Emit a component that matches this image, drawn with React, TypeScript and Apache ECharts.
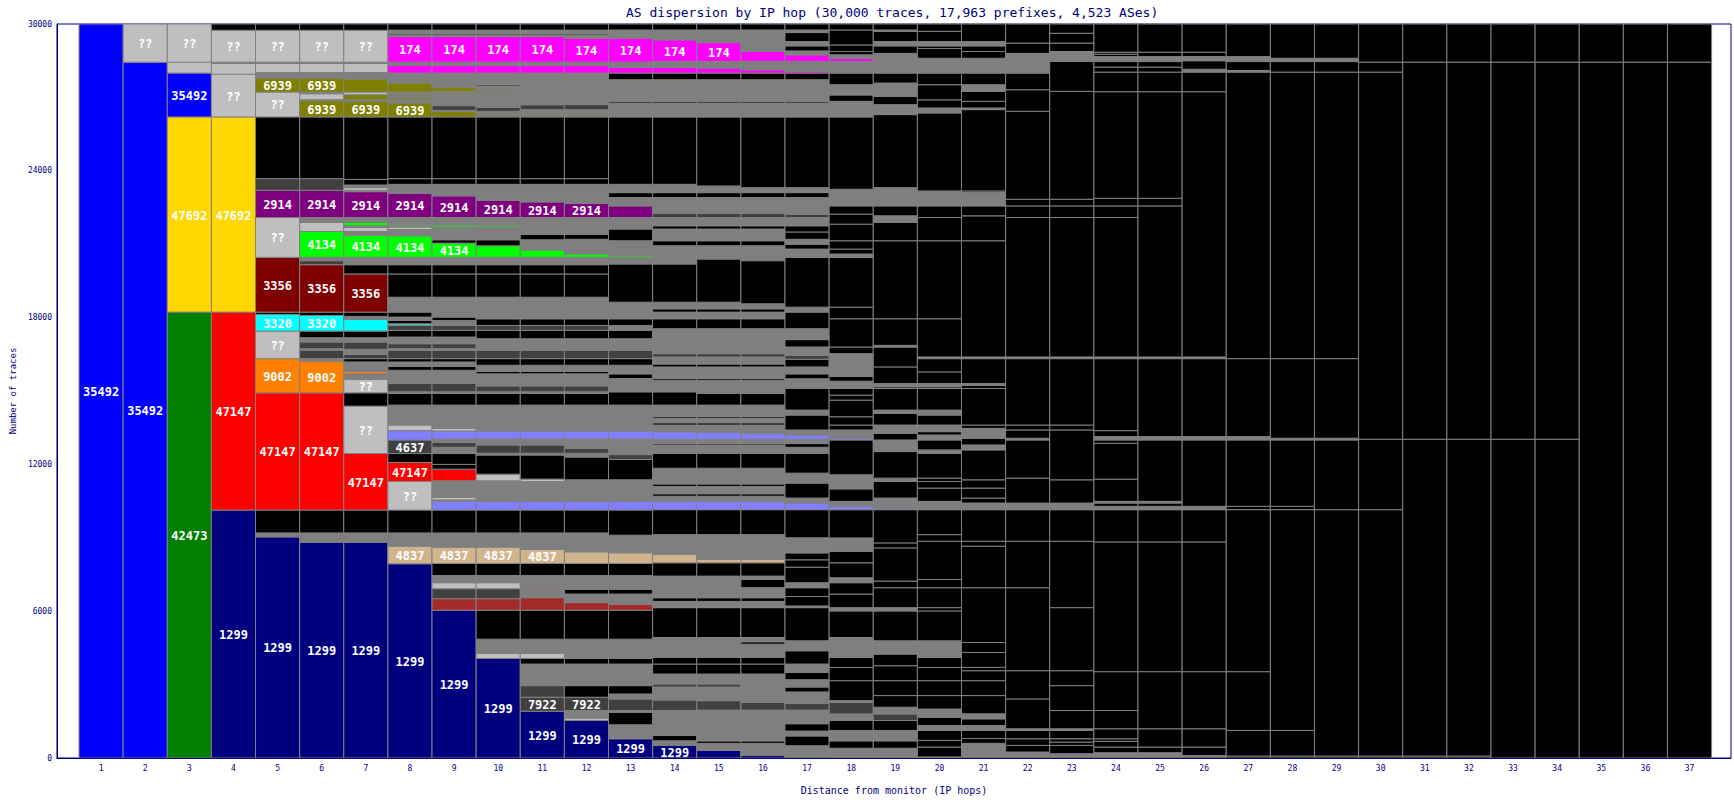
import React, { useEffect, useRef } from "react";
import * as echarts from "echarts";

const TITLE = "AS dispersion by IP hop (30,000 traces, 17,963 prefixes, 4,523 ASes)";
const X_NAME = "Distance from monitor (IP hops)";
const Y_NAME = "Number of traces";
const Y_TICKS = [0, 6000, 12000, 18000, 24000, 30000];

const COLORS: Record<string, string> = {
  B: "#0000ff", L: "#bfbfbf", Y: "#ffd700", G: "#007f00", R: "#ff0000", N: "#00007f",
  M: "#ff00ff", O: "#7f7f00", P: "#7f007f", E: "#00ff00", W: "#7f0000", C: "#00ffff",
  A: "#ff7f00", D: "#404040", g: "#7f7f7f", K: "#000000", S: "#7f7fff", T: "#d2b48c", X: "#a52a2a",
};

// Each hop: segments bottom-up as [cumulative traces at segment top, AS colour key, AS label]
const hop01 = [[30000, "B", "35492"]];
const hop02 = [[28441, "B", "35492"], [30000, "L", "??"]];
const hop03 = [[18224, "G", "42473"], [26203, "Y", "47692"], [27993, "B", "35492"], [28441, "L"], [30000, "L", "??"]];
const hop04 = [[10136, "N", "1299"], [18224, "R", "47147"], [26203, "Y", "47692"], [27950, "L", "??"], [28400, "L"], [28441, "K"], [29747, "L", "??"], [30000, "K"]];
const hop05 = [[9037, "N", "1299"], [9200, "g"], [10136, "K"], [14926, "R", "47147"], [16323, "A", "9002"], [17450, "L", "??"], [18127, "C", "3320"], [18224, "K"], [20463, "W", "3356"], [22091, "L", "??"], [23203, "P", "2914"], [23679, "D"], [26203, "K"], [27220, "L", "??"], [27790, "O", "6939"], [28018, "g"], [28400, "L"], [28441, "K"], [29747, "L", "??"], [30000, "K"]];
const hop06 = [[8821, "N", "1299"], [9200, "g"], [10136, "K"], [14926, "R", "47147"], [16215, "A", "9002"], [16323, "g"], [16662, "D"], [16730, "g"], [17003, "D"], [17178, "g"], [17450, "K"], [18086, "C", "3320"], [18224, "K"], [20162, "W", "3356"], [20325, "D"], [20463, "g"], [21520, "E", "4134"], [21887, "L"], [22091, "g"], [23203, "P", "2914"], [23679, "D"], [26203, "K"], [26867, "O", "6939"], [26908, "g"], [27150, "L"], [27220, "g"], [27790, "O", "6939"], [28018, "g"], [28400, "L"], [28441, "K"], [29747, "L", "??"], [30000, "K"]];
const hop07 = [[8821, "N", "1299"], [9200, "g"], [10136, "K"], [12444, "R", "47147"], [14382, "L", "??"], [14926, "K"], [15468, "L", "??"], [15700, "g"], [15806, "A"], [16189, "g"], [16323, "K"], [16500, "D"], [16700, "g"], [17000, "D"], [17178, "g"], [17450, "K"], [17920, "C"], [18050, "g"], [18224, "K"], [19783, "W", "3356"], [20162, "K"], [20463, "g"], [21370, "E", "4134"], [21520, "g"], [21683, "L"], [21750, "g"], [21887, "E"], [22091, "g"], [23148, "P", "2914"], [23203, "g"], [23312, "L"], [23420, "g"], [23650, "K"], [26203, "K"], [26840, "O", "6939"], [26908, "g"], [27110, "O"], [27220, "L"], [27750, "O"], [28018, "g"], [28400, "L"], [28441, "K"], [29747, "L", "??"], [30000, "K"]];
const hop08 = [[7938, "N", "1299"], [8658, "T", "4837"], [9200, "g"], [10136, "K"], [11304, "L", "??"], [12077, "R", "47147"], [12444, "K"], [12998, "D", "4637"], [13381, "S"], [13609, "L"], [14423, "g"], [14898, "K"], [14966, "g"], [15306, "D"], [15848, "g"], [16000, "K"], [16187, "g"], [16323, "K"], [16663, "D"], [16731, "g"], [16934, "D"], [17206, "g"], [17477, "K"], [17681, "D"], [17749, "C"], [17884, "K"], [18020, "g"], [18224, "K"], [18834, "g"], [19783, "K"], [20162, "K"], [20463, "g"], [21343, "E", "4134"], [21600, "g"], [21700, "L"], [21750, "g"], [21800, "E"], [22091, "g"], [23080, "P", "2914"], [23446, "g"], [23679, "K"], [26203, "K"], [26772, "O", "6939"], [26900, "g"], [26980, "O"], [27100, "g"], [27150, "O"], [27220, "g"], [27586, "O"], [27993, "g"], [28304, "M"], [28441, "g"], [29483, "M", "174"], [29550, "g"], [29620, "D"], [29750, "g"], [30000, "K"]];
const hop09 = [[6037, "N", "1299"], [6513, "X"], [6920, "D"], [7164, "L"], [7462, "g"], [7950, "K"], [8617, "T", "4837"], [9200, "g"], [10136, "K"], [10490, "S"], [10550, "g"], [10650, "L"], [11328, "g"], [11805, "R"], [12000, "K"], [12444, "K"], [12700, "g"], [12900, "D"], [13040, "g"], [13367, "S"], [13474, "L"], [14423, "g"], [14898, "K"], [14966, "g"], [15306, "D"], [15848, "g"], [16000, "K"], [16187, "g"], [16323, "K"], [16663, "D"], [16731, "g"], [16934, "D"], [17206, "g"], [17477, "K"], [17681, "D"], [17884, "g"], [18020, "K"], [18224, "g"], [18834, "g"], [19783, "K"], [20162, "K"], [20463, "g"], [21045, "E", "4134"], [21180, "K"], [21700, "g"], [21780, "E"], [22091, "g"], [22975, "P", "2914"], [23446, "g"], [23679, "K"], [26203, "K"], [26430, "O"], [26471, "g"], [26663, "D"], [27150, "g"], [27200, "O"], [27245, "g"], [27407, "O"], [27480, "g"], [27540, "D"], [27993, "g"], [28300, "M"], [28441, "g"], [29483, "M", "174"], [29550, "g"], [29620, "D"], [29750, "g"], [30000, "K"]];
const hop10 = [[4070, "N", "1299"], [4274, "L"], [4856, "g"], [6037, "K"], [6513, "X"], [6920, "D"], [7164, "L"], [7462, "g"], [7950, "K"], [8617, "T", "4837"], [9200, "g"], [10136, "K"], [10490, "S"], [11328, "g"], [11601, "L"], [12383, "K"], [12456, "g"], [12794, "D"], [13040, "g"], [13367, "S"], [14423, "g"], [14898, "K"], [14966, "g"], [15210, "D"], [15700, "g"], [15800, "K"], [16051, "g"], [16323, "K"], [16662, "D"], [17137, "g"], [17476, "K"], [17680, "D"], [17951, "K"], [18224, "g"], [18834, "g"], [19783, "K"], [20162, "K"], [20463, "g"], [20935, "E"], [21180, "K"], [21700, "g"], [21760, "E"], [22091, "g"], [22795, "P", "2914"], [23446, "g"], [23679, "K"], [26203, "K"], [26256, "O"], [26430, "g"], [26600, "D"], [27200, "g"], [27260, "O"], [27450, "g"], [27520, "D"], [27993, "g"], [28300, "M"], [28441, "g"], [29483, "M", "174"], [29550, "g"], [29620, "D"], [29750, "g"], [30000, "K"]];
const hop11 = [[1913, "N", "1299"], [2483, "D", "7922"], [2958, "D"], [3500, "g"], [3840, "g"], [4070, "K"], [4274, "L"], [4856, "g"], [6037, "K"], [6554, "X"], [7000, "g"], [7060, "X"], [7462, "g"], [7950, "K"], [8522, "T", "4837"], [9200, "g"], [10136, "K"], [10490, "S"], [11300, "g"], [11400, "L"], [12383, "K"], [12456, "g"], [12794, "D"], [13040, "g"], [13367, "S"], [14423, "g"], [14898, "K"], [14966, "g"], [15210, "D"], [15700, "g"], [15800, "K"], [16051, "g"], [16323, "K"], [16662, "D"], [17137, "g"], [17476, "K"], [17680, "D"], [17951, "K"], [18224, "g"], [18834, "g"], [19783, "K"], [20162, "K"], [20463, "g"], [20760, "E"], [21180, "g"], [21400, "K"], [22091, "g"], [22727, "P", "2914"], [23446, "g"], [23679, "K"], [26203, "K"], [26256, "O"], [26500, "g"], [26700, "D"], [27993, "g"], [28300, "M"], [28441, "g"], [29483, "M", "174"], [29550, "g"], [29620, "D"], [29750, "g"], [30000, "K"]];
const hop12 = [[1534, "N", "1299"], [1628, "L"], [1941, "g"], [2483, "D", "7922"], [2958, "K"], [3500, "g"], [3840, "g"], [4070, "K"], [4856, "g"], [6037, "K"], [6350, "X"], [6700, "g"], [6900, "K"], [7462, "g"], [7950, "K"], [8426, "T"], [9200, "g"], [10136, "K"], [10490, "S"], [11370, "g"], [12300, "K"], [12456, "g"], [12659, "D"], [13040, "g"], [13367, "S"], [14423, "g"], [14898, "K"], [14966, "g"], [15210, "D"], [15700, "g"], [15800, "K"], [16051, "g"], [16323, "K"], [16662, "D"], [17137, "g"], [17476, "K"], [17680, "D"], [17951, "K"], [18224, "g"], [18834, "g"], [19783, "K"], [20162, "K"], [20463, "g"], [20600, "E"], [21200, "g"], [21400, "K"], [22091, "g"], [22673, "P", "2914"], [23446, "g"], [23679, "K"], [26203, "K"], [26256, "O"], [26500, "g"], [26707, "D"], [27993, "g"], [28300, "M"], [28441, "g"], [29415, "M", "174"], [29550, "g"], [29620, "D"], [29750, "g"], [30000, "K"]];
const hop13 = [[786, "N", "1299"], [830, "L"], [1355, "g"], [1872, "K"], [1941, "g"], [2414, "D"], [2617, "g"], [2958, "K"], [3432, "g"], [3840, "g"], [4070, "K"], [4856, "g"], [6037, "K"], [6280, "X"], [6700, "g"], [6900, "K"], [7462, "g"], [7950, "K"], [8386, "T"], [9105, "g"], [10136, "K"], [10490, "S"], [11370, "g"], [12200, "K"], [12400, "D"], [13040, "g"], [13367, "S"], [14423, "g"], [14966, "K"], [15210, "g"], [15508, "g"], [15700, "K"], [16051, "g"], [16323, "K"], [16662, "D"], [17137, "g"], [17476, "K"], [17680, "g"], [17951, "K"], [18224, "g"], [18630, "g"], [20191, "K"], [20463, "g"], [20528, "E"], [21141, "g"], [21620, "K"], [22091, "g"], [22566, "P"], [22905, "g"], [23108, "K"], [23448, "g"], [26202, "K"], [26772, "g"], [26840, "K"], [27722, "g"], [27993, "K"], [28237, "M"], [28441, "g"], [29415, "M", "174"], [29757, "g"], [30000, "K"]];
const hop14 = [[515, "N", "1299"], [700, "g"], [923, "K"], [1940, "g"], [2370, "D"], [2900, "g"], [3025, "D"], [3432, "g"], [3840, "K"], [4111, "K"], [4925, "g"], [6146, "K"], [6400, "g"], [6550, "K"], [6960, "g"], [7435, "g"], [7978, "K"], [8317, "T"], [9131, "g"], [10149, "K"], [10488, "S"], [10700, "g"], [10800, "K"], [11100, "g"], [11200, "K"], [11845, "g"], [12456, "K"], [12795, "g"], [12850, "K"], [13026, "g"], [13338, "S"], [13609, "g"], [13700, "K"], [13880, "g"], [13950, "K"], [14423, "g"], [14966, "K"], [15441, "g"], [15509, "K"], [15984, "g"], [16100, "K"], [16392, "g"], [16527, "D"], [17545, "g"], [17952, "K"], [18224, "g"], [18359, "K"], [18630, "g"], [20191, "K"], [20937, "g"], [21141, "K"], [21620, "g"], [21752, "K"], [22091, "g"], [22267, "D"], [22330, "g"], [22362, "P"], [22566, "g"], [22905, "g"], [23108, "K"], [23448, "g"], [26202, "K"], [26772, "g"], [26840, "K"], [27722, "g"], [27993, "K"], [28237, "M"], [28468, "g"], [29350, "M", "174"], [29757, "g"], [30000, "K"]];
const hop15 = [[312, "N"], [600, "g"], [700, "K"], [1957, "g"], [2342, "D"], [2900, "g"], [3025, "D"], [3432, "g"], [3840, "K"], [4111, "K"], [4925, "g"], [6146, "K"], [6400, "g"], [6550, "K"], [6960, "g"], [7435, "g"], [7978, "K"], [8114, "T"], [9131, "g"], [10149, "K"], [10488, "S"], [10700, "g"], [10800, "K"], [11100, "g"], [11200, "K"], [11845, "g"], [12456, "K"], [12795, "g"], [12850, "K"], [13026, "g"], [13310, "S"], [13609, "g"], [13700, "K"], [13880, "g"], [13950, "K"], [14423, "g"], [14898, "K"], [15441, "g"], [15509, "K"], [15984, "g"], [16100, "K"], [16392, "g"], [16527, "D"], [17545, "g"], [17952, "K"], [18224, "g"], [18359, "K"], [18630, "g"], [20395, "K"], [20937, "g"], [21141, "K"], [21620, "g"], [21752, "K"], [22091, "g"], [22267, "D"], [22566, "g"], [22905, "g"], [23108, "K"], [23380, "g"], [26202, "K"], [26772, "g"], [26840, "K"], [27722, "g"], [27993, "K"], [28200, "M"], [28468, "g"], [29240, "M", "174"], [29757, "g"], [30000, "K"]];
const hop16 = [[109, "N"], [600, "g"], [700, "K"], [1957, "g"], [2274, "D"], [2900, "g"], [3432, "g"], [3840, "K"], [4111, "K"], [4650, "g"], [4750, "K"], [4925, "g"], [6146, "K"], [6400, "g"], [6550, "K"], [6960, "g"], [7300, "K"], [7435, "g"], [7978, "K"], [8114, "T"], [9131, "g"], [10149, "K"], [10488, "S"], [10700, "g"], [10800, "K"], [11100, "g"], [11200, "K"], [11845, "g"], [12456, "K"], [12795, "g"], [12850, "K"], [13026, "g"], [13270, "S"], [13609, "g"], [13700, "K"], [13880, "g"], [13950, "K"], [14423, "g"], [14898, "K"], [15441, "g"], [15509, "K"], [15984, "g"], [16100, "K"], [16392, "g"], [16527, "D"], [17545, "g"], [17952, "K"], [18224, "g"], [18359, "K"], [18563, "g"], [20327, "K"], [20937, "g"], [21141, "K"], [21620, "g"], [21752, "K"], [22091, "g"], [22267, "D"], [22566, "g"], [22905, "g"], [23108, "K"], [23312, "g"], [26202, "K"], [26772, "g"], [26840, "K"], [27722, "g"], [27993, "K"], [28129, "M"], [28468, "g"], [28875, "M"], [29100, "g"], [29400, "g"], [29757, "g"], [30000, "K"]];
const hop17 = [[41, "N"], [300, "g"], [500, "g"], [900, "K"], [1100, "g"], [1400, "K"], [1957, "g"], [2234, "D"], [2700, "g"], [2900, "K"], [3200, "g"], [3500, "K"], [3840, "g"], [4382, "K"], [4789, "g"], [6146, "K"], [6214, "g"], [6600, "K"], [6960, "K"], [7164, "g"], [7800, "K"], [8100, "K"], [8385, "K"], [9000, "g"], [10149, "K"], [10420, "S"], [10624, "g"], [11235, "K"], [11642, "g"], [12456, "K"], [12700, "g"], [12850, "K"], [13026, "g"], [13202, "S"], [13406, "g"], [14016, "K"], [14220, "g"], [15102, "K"], [15238, "g"], [15500, "g"], [15700, "K"], [15984, "g"], [16300, "K"], [16450, "D"], [16800, "g"], [17100, "K"], [17545, "g"], [18224, "K"], [18427, "g"], [20463, "K"], [20800, "g"], [21000, "K"], [21200, "g"], [21500, "K"], [21752, "K"], [22091, "g"], [22227, "D"], [22566, "g"], [22905, "g"], [23108, "K"], [23312, "g"], [26202, "K"], [26772, "g"], [26840, "K"], [27300, "g"], [27722, "g"], [27993, "K"], [28060, "M"], [28468, "g"], [28739, "M"], [28900, "g"], [29106, "K"], [29282, "g"], [29650, "K"], [29757, "g"], [30000, "K"]];
const hop18 = [[41, "D"], [400, "g"], [700, "K"], [1126, "g"], [1533, "K"], [1800, "g"], [2279, "D"], [2347, "g"], [3161, "K"], [3700, "K"], [4111, "K"], [4246, "g"], [4925, "g"], [6010, "K"], [6146, "g"], [6700, "K"], [7164, "K"], [7367, "g"], [7978, "K"], [8453, "K"], [8996, "g"], [10149, "K"], [10285, "S"], [10488, "g"], [11000, "K"], [11574, "g"], [12998, "K"], [13067, "S"], [13406, "g"], [13609, "K"], [13948, "K"], [14627, "K"], [14831, "K"], [15102, "K"], [15400, "g"], [15600, "K"], [16000, "g"], [16527, "g"], [16798, "K"], [17952, "K"], [18427, "K"], [20463, "K"], [20598, "g"], [20801, "K"], [21141, "K"], [21820, "K"], [22227, "K"], [22566, "K"], [22905, "g"], [23244, "g"], [26202, "K"], [26840, "g"], [27100, "K"], [27300, "g"], [27518, "g"], [27993, "K"], [28300, "g"], [28468, "g"], [28603, "M"], [28739, "g"], [28875, "K"], [29146, "K"], [29757, "K"], [30000, "K"]];
const hop19 = [[41, "D"], [400, "g"], [700, "K"], [1126, "g"], [1533, "K"], [1800, "D"], [2076, "g"], [2551, "K"], [3161, "K"], [3772, "K"], [4246, "K"], [4789, "g"], [6010, "K"], [6146, "g"], [6960, "K"], [7232, "K"], [8588, "K"], [8792, "K"], [10149, "K"], [10217, "S"], [10624, "g"], [11302, "K"], [11438, "g"], [12524, "K"], [12998, "g"], [13270, "K"], [13609, "g"], [14084, "K"], [14220, "g"], [15102, "K"], [15170, "K"], [15305, "g"], [15984, "K"], [16798, "K"], [16866, "g"], [17952, "K"], [21141, "K"], [21888, "K"], [22159, "g"], [22566, "K"], [22770, "g"], [23244, "g"], [23312, "g"], [26297, "K"], [26704, "g"], [27044, "K"], [27587, "g"], [27993, "K"], [28264, "g"], [28400, "g"], [28800, "g"], [29106, "K"], [29282, "g"], [29700, "K"], [29757, "g"], [30000, "K"]];
const hop20 = [[41, "g"], [448, "K"], [720, "K"], [1126, "K"], [1329, "g"], [1670, "K"], [2000, "g"], [2551, "K"], [3161, "K"], [3700, "K"], [4111, "K"], [4246, "g"], [4789, "g"], [6010, "K"], [6146, "K"], [6960, "K"], [7300, "K"], [8860, "K"], [9130, "K"], [10149, "K"], [10488, "g"], [11031, "K"], [11302, "K"], [11438, "K"], [12456, "K"], [12592, "g"], [12998, "K"], [13202, "g"], [13338, "K"], [13609, "g"], [14016, "K"], [14220, "g"], [15102, "K"], [15170, "K"], [15305, "g"], [15780, "K"], [16323, "K"], [16392, "g"], [17952, "K"], [21141, "K"], [22091, "K"], [22566, "K"], [22770, "g"], [23176, "g"], [26365, "K"], [26568, "g"], [26900, "K"], [27518, "K"], [27993, "K"], [28264, "g"], [28600, "g"], [29000, "K"], [29106, "K"], [29282, "g"], [29700, "K"], [30000, "K"]];
const hop21 = [[41, "K"], [300, "g"], [600, "g"], [800, "K"], [1126, "K"], [1329, "g"], [1600, "K"], [1805, "g"], [2551, "K"], [3161, "K"], [3568, "K"], [3704, "K"], [4314, "K"], [4721, "K"], [6960, "K"], [8656, "K"], [8860, "K"], [10149, "K"], [10420, "g"], [10624, "K"], [11031, "K"], [11370, "K"], [12592, "K"], [12795, "g"], [13067, "K"], [13473, "g"], [13609, "K"], [15102, "K"], [15238, "K"], [15305, "g"], [16323, "K"], [16392, "g"], [21141, "K"], [22159, "K"], [22566, "K"], [22770, "g"], [23108, "g"], [23176, "K"], [26501, "K"], [26568, "g"], [26840, "K"], [27247, "K"], [27518, "g"], [27993, "K"], [28264, "g"], [28600, "g"], [28875, "K"], [29106, "K"], [29282, "g"], [30000, "K"]];
const hop22 = [[41, "K"], [100, "g"], [244, "g"], [515, "K"], [786, "K"], [1126, "K"], [1193, "g"], [2415, "K"], [3568, "K"], [6960, "K"], [8860, "K"], [10149, "K"], [10420, "g"], [11438, "K"], [12998, "K"], [13067, "g"], [13406, "K"], [13609, "K"], [16323, "K"], [16392, "g"], [22091, "K"], [22566, "K"], [22837, "K"], [26433, "K"], [27315, "K"], [27993, "K"], [28264, "g"], [28468, "g"], [28800, "g"], [29220, "K"], [30000, "K"]];
const hop23 = [[41, "K"], [176, "g"], [515, "K"], [650, "K"], [786, "K"], [1126, "K"], [1193, "g"], [1940, "K"], [2958, "K"], [3568, "K"], [6146, "K"], [8860, "K"], [10149, "K"], [10420, "g"], [11370, "K"], [13406, "K"], [13609, "K"], [16323, "K"], [16392, "g"], [22091, "K"], [22566, "K"], [22837, "K"], [27247, "K"], [28468, "K"], [28669, "g"], [28875, "g"], [29220, "K"], [29621, "K"], [30000, "K"]];
const hop24 = [[41, "K"], [216, "g"], [448, "K"], [680, "K"], [786, "K"], [1193, "K"], [1942, "K"], [3529, "K"], [8833, "K"], [10148, "K"], [10286, "g"], [10421, "K"], [10490, "g"], [11398, "K"], [12863, "K"], [13000, "K"], [13136, "g"], [13380, "K"], [16323, "K"], [16392, "g"], [22091, "K"], [22564, "K"], [22877, "K"], [27232, "K"], [28034, "K"], [28238, "K"], [28465, "K"], [28669, "g"], [28766, "K"], [28847, "K"], [30000, "K"]];
const hop25 = [[41, "K"], [216, "g"], [448, "K"], [1193, "K"], [3529, "K"], [8833, "K"], [10148, "K"], [10286, "g"], [10421, "K"], [10490, "g"], [13000, "K"], [13136, "g"], [16323, "K"], [16392, "g"], [22564, "K"], [22877, "K"], [27232, "K"], [28034, "K"], [28238, "K"], [28465, "K"], [28669, "g"], [28847, "K"], [30000, "K"]];
const hop26 = [[50, "K"], [100, "g"], [448, "K"], [1193, "K"], [3529, "K"], [8833, "K"], [10148, "K"], [10286, "g"], [13000, "K"], [13136, "g"], [16323, "K"], [16392, "g"], [27232, "K"], [28034, "K"], [28150, "g"], [28500, "K"], [28669, "g"], [28847, "K"], [30000, "K"]];
const hop27 = [[81, "K"], [1126, "K"], [3529, "K"], [10150, "K"], [10286, "K"], [13000, "K"], [13136, "g"], [16323, "K"], [28034, "K"], [28100, "g"], [28465, "K"], [28669, "g"], [30000, "K"]];
const hop28 = [[81, "K"], [1126, "K"], [10150, "K"], [10286, "K"], [13000, "K"], [13070, "g"], [16323, "K"], [28034, "K"], [28465, "K"], [28600, "g"], [30000, "K"]];
const hop29 = [[81, "K"], [10150, "K"], [13000, "K"], [13070, "g"], [16323, "K"], [28034, "K"], [28465, "K"], [28600, "g"], [30000, "K"]];
const hop30 = [[81, "K"], [10150, "K"], [13030, "K"], [28034, "K"], [28441, "K"], [30000, "K"]];
const hop31 = [[81, "K"], [13030, "K"], [28441, "K"], [30000, "K"]];
const hop32 = [[81, "K"], [13030, "K"], [28441, "K"], [30000, "K"]];
const hop33 = [[13030, "K"], [28441, "K"], [30000, "K"]];
const hop34 = [[13030, "K"], [28441, "K"], [30000, "K"]];
const hop35 = [[28441, "K"], [30000, "K"]];
const hop36 = [[28441, "K"], [30000, "K"]];
const hop37 = [[28441, "K"], [30000, "K"]];

const HOPS: any[][] = [
  hop01, hop02, hop03, hop04, hop05, hop06, hop07, hop08, hop09, hop10,
  hop11, hop12, hop13, hop14, hop15, hop16, hop17, hop18, hop19, hop20,
  hop21, hop22, hop23, hop24, hop25, hop26, hop27, hop28, hop29, hop30,
  hop31, hop32, hop33, hop34, hop35, hop36, hop37,
];

const MONO = '"DejaVu Sans Mono", monospace';
const NAVY = "#000080";

export default function App() {
  const ref = useRef<HTMLDivElement>(null);
  useEffect(() => {
    if (!ref.current) return;
    const chart = echarts.init(ref.current, undefined, { renderer: "svg" });
    const data: number[][] = [];
    const meta: { code: string; label?: string }[] = [];
    HOPS.forEach((segs, i) => {
      let prev = 0;
      segs.forEach((s: any[]) => {
        data.push([i + 1, prev, s[0]]);
        meta.push({ code: s[1], label: s[2] });
        prev = s[0];
      });
    });
    const renderItem = (params: any, api: any) => {
      const h = api.value(0);
      const lo = api.value(1);
      const hi = api.value(2);
      const tl = api.coord([h - 0.5, hi]);
      const br = api.coord([h + 0.5, lo]);
      const m = meta[params.dataIndex];
      const children: any[] = [
        {
          type: "rect",
          shape: { x: tl[0], y: tl[1], width: br[0] - tl[0], height: br[1] - tl[1] },
          style: { fill: COLORS[m.code], stroke: "#808080", lineWidth: 1 },
        },
      ];
      if (m.label) {
        children.push({
          type: "text",
          x: (tl[0] + br[0]) / 2,
          y: (tl[1] + br[1]) / 2 + 1,
          style: {
            text: m.label,
            fill: "#ffffff",
            font: `bold 12px ${MONO}`,
            align: "center",
            verticalAlign: "middle",
          },
        });
      }
      return { type: "group", children };
    };
    chart.setOption({
      animation: false,
      backgroundColor: "#ffffff",
      title: {
        text: TITLE,
        left: 621,
        top: 1,
        textStyle: { color: NAVY, fontSize: 13, fontWeight: "normal", fontFamily: MONO },
      },
      grid: {
        left: 50, right: 3, top: 24, bottom: 39,
        show: true, borderColor: NAVY, borderWidth: 1, backgroundColor: "#ffffff",
      },
      xAxis: {
        type: "value",
        min: 0,
        max: 37.94,
        interval: 1,
        z: 10,
        name: X_NAME,
        nameLocation: "middle",
        nameGap: 27,
        nameTextStyle: { color: NAVY, fontSize: 10, fontFamily: MONO },
        axisLine: { show: true, lineStyle: { color: NAVY, width: 1 } },
        axisTick: { show: false },
        splitLine: { show: false },
        axisLabel: {
          color: NAVY, fontSize: 8, fontFamily: MONO, margin: 6,
          showMinLabel: false, showMaxLabel: false,
          formatter: (v: number) => (Number.isInteger(v) && v >= 1 && v <= HOPS.length ? String(v) : ""),
        },
      },
      yAxis: {
        type: "value",
        min: 0,
        max: 30000,
        interval: 6000,
        z: 10,
        name: Y_NAME,
        nameLocation: "middle",
        nameGap: 38,
        nameTextStyle: { color: NAVY, fontSize: 9, fontFamily: MONO },
        axisLine: { show: true, lineStyle: { color: NAVY, width: 1 } },
        axisTick: { show: false },
        splitLine: { show: false },
        axisLabel: {
          color: NAVY, fontSize: 8, fontFamily: MONO, margin: 5,
          formatter: (v: number) => (Y_TICKS.includes(v) ? String(v) : ""),
        },
      },
      series: [
        {
          type: "custom",
          renderItem,
          data,
          encode: { x: 0, y: [1, 2] },
          clip: false,
          z: 2,
        },
      ],
    });
    return () => chart.dispose();
  }, []);
  return (
    <div
      ref={ref}
      style={{ position: "fixed", left: 0, top: 0, width: 1734, height: 800, background: "#ffffff" }}
    />
  );
}
